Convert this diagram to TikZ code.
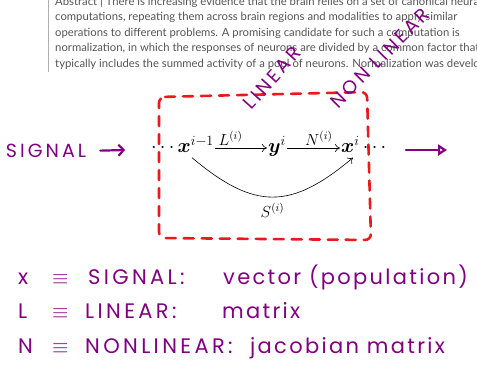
\RequirePackage{fix-cm}
\documentclass[tikz,border=0pt]{standalone}
\usepackage{amsmath,amssymb}
\usepackage{fontspec}
\usepackage{xcolor}
\usetikzlibrary{arrows.meta, positioning, calc}

\newfontfamily\paperfont{Lato}
\newfontfamily\handfont[LetterSpace=11]{Poppins}
\newfontfamily\handcapsfont[LetterSpace=16]{Poppins}

\definecolor{inkpurple}{RGB}{128,0,128}
\definecolor{inkred}{RGB}{235,25,25}
\definecolor{papergray}{RGB}{85,85,85}
\definecolor{rulegray}{RGB}{175,175,175}

\begin{document}
\begin{tikzpicture}[
    x=1pt, y=1pt,
    paper/.style={anchor=base west, inner sep=0pt, text=papergray, font=\paperfont\fontsize{11.3}{14}\selectfont},
    mathnode/.style={font=\fontsize{20}{24}\selectfont, text height=13pt, text depth=4pt, inner sep=1pt},
    label/.style={font=\fontsize{16}{19}\selectfont, inner sep=2pt},
    arrow/.style={-{Computer Modern Rightarrow[length=5pt, width=8pt]}, line width=0.6pt},
    hand/.style={anchor=base west, inner sep=0pt, text=inkpurple, font=\handfont\fontsize{21}{25}\selectfont},
    handcaps/.style={inner sep=0pt, text=inkpurple, font=\handcapsfont\fontsize{19}{22}\selectfont},
    handarrow/.style={draw=inkpurple, line width=2.2pt, line cap=round},
    redbox/.style={draw=inkred, line width=2.6pt, dash pattern=on 10pt off 8pt, line cap=round, rounded corners=6pt}
]
\clip (0,0) rectangle (477,-368);

% Abstract paragraph (background)
\draw[rulegray, line width=0.8pt] (48,0) -- (48,-72);
\node[paper] (abs1) at (55,-5)    {Abstract | There is increasing evidence that the brain relies on a set of canonical neural};
\node[paper] (abs2) at (55,-20.5) {computations, repeating them across brain regions and modalities to apply similar};
\node[paper] (abs3) at (55,-36)   {operations to different problems. A promising candidate for such a computation is};
\node[paper] (abs4) at (55,-51.5) {normalization, in which the responses of neurons are divided by a common factor that};
\node[paper] (abs5) at (55,-67)   {typically includes the summed activity of a pool of neurons. Normalization was developed};

% Dashed box around the block
\draw[redbox] (159,-97) -- (367,-92) -- (371,-240) -- (159,-238) -- cycle;

% Block diagram
\node[mathnode, anchor=east] (xprev) at (215,-148) {$\cdots\boldsymbol{x}^{i-1}$};
\node[mathnode] (yi) at (277,-148) {$\boldsymbol{y}^{i}$};
\node[mathnode, anchor=west] (xi) at (340,-148) {$\boldsymbol{x}^{i}\cdots$};

\draw[arrow] (xprev) -- node[label, above, pos=0.3] {$L^{(i)}$} (yi);
\draw[arrow] (yi) -- node[label, above, pos=0.6] {$N^{(i)}$} (xi);
\draw[arrow] ([xshift=-23pt]xprev.south east) to[out=-40, in=-140, looseness=1.3]
    node[label, below=4pt] {$S^{(i)}$} ([xshift=13pt]xi.south west);

% Handwritten notes
\node[handcaps] (signal) at (46,-151) {SIGNAL};
\coordinate (signaltip) at (125,-150);
\draw[handarrow, -{Straight Barb[length=5pt, width=11pt]}, shorten <=14pt] (signal.east) -- (signaltip);

\coordinate (outstart) at (406,-150);
\coordinate (outtip) at (447,-150);
\draw[handarrow, -{Triangle[open, length=9pt, width=11pt]}] (outstart) -- (outtip);

\node[handcaps, rotate=48] (linear) at (272,-78) {LINEAR};
\node[handcaps, rotate=45] (nonlinear) at (380,-58) {NON LINEAR};

% Legend
\node[hand] (kx) at (18,-284) {x};
\node[hand] (ex) at (52,-284) {$\equiv$};
\node[hand] (sx) at (88,-284) {\handcapsfont SIGNAL:};
\node[hand] (dx) at (223,-284) {vector (population)};

\node[hand] (kl) at (18,-318) {L};
\node[hand] (el) at (52,-318) {$\equiv$};
\node[hand] (sl) at (85,-318) {\handcapsfont LINEAR:};
\node[hand] (dl) at (222,-318) {matrix};

\node[hand] (kn) at (18,-353) {N};
\node[hand] (en) at (52,-353) {$\equiv$};
\node[hand] (sn) at (85,-353) {\handcapsfont NONLINEAR:};
\node[hand] (dn) at (250,-353) {jacobian matrix};
\end{tikzpicture}
\end{document}
